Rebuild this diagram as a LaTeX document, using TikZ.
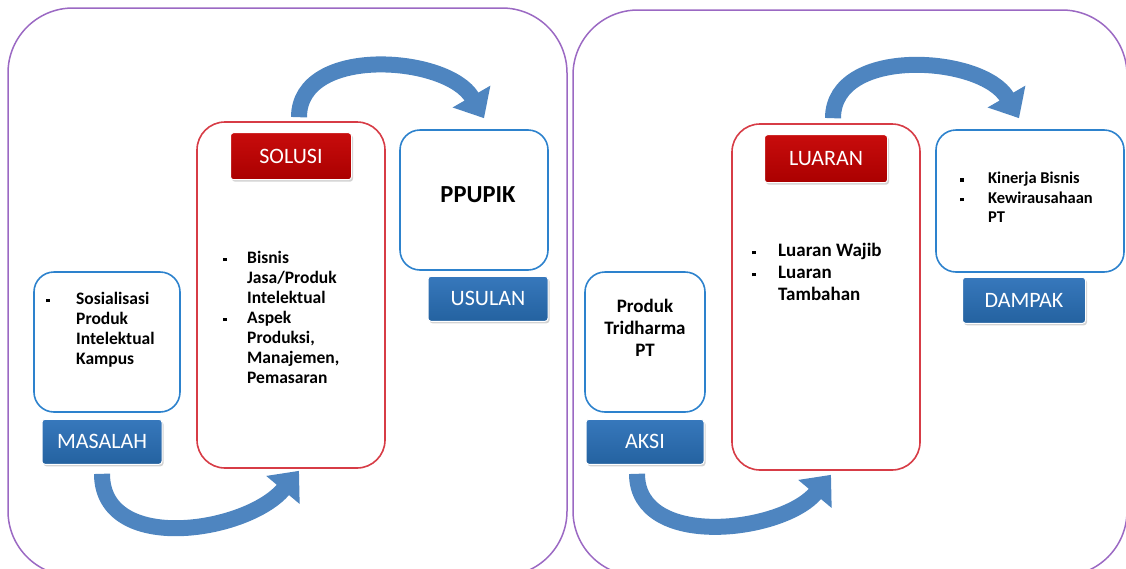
\documentclass[tikz,border=0pt]{standalone}
\usepackage{fontspec}
\setmainfont{Carlito}
\usetikzlibrary{positioning, arrows.meta, shadows}

\definecolor{ungu}{RGB}{155,105,195}
\definecolor{biruGaris}{RGB}{45,130,205}
\definecolor{merahGaris}{RGB}{215,60,70}
\definecolor{biruTua}{RGB}{36,98,160}
\definecolor{biruMuda}{RGB}{55,120,188}
\definecolor{merahTua}{RGB}{170,0,0}
\definecolor{merahMuda}{RGB}{200,12,12}
\definecolor{panahWarna}{RGB}{78,133,192}

\newcommand{\butir}[1][24pt]{\makebox[#1][l]{\rule[0.12em]{3.5pt}{3.5pt}}}

\begin{document}
\begin{tikzpicture}[x=1pt, y=1pt,
    panel/.style={draw=ungu, line width=1.5pt, rounded corners=65pt},
    isibox/.style={rectangle, draw=biruGaris, line width=1.6pt, rounded corners=20pt, fill=white},
    merahbox/.style={rectangle, draw=merahGaris, line width=1.6pt, rounded corners=28pt, fill=white},
    labelbox/.style={rectangle, rounded corners=3pt, draw=white, line width=1pt, text=white,
        font=\fontsize{22}{24}\selectfont,
        drop shadow={opacity=0.35, shadow xshift=1.5pt, shadow yshift=-2pt}},
    labelbiru/.style={labelbox, top color=biruMuda, bottom color=biruTua, minimum width=120pt, minimum height=45pt},
    labelmerah/.style={labelbox, top color=merahMuda, bottom color=merahTua, minimum width=121pt, minimum height=47pt},
    isitext/.style={inner sep=0pt, anchor=north west, font=\bfseries\fontsize{17.5}{20}\selectfont},
    panah/.style={draw=panahWarna, line width=16pt, -{Triangle[width=42pt, length=25pt]}},
]
\useasboundingbox (0,-568) rectangle (1126,0);

% two big frames
\draw[panel] (8,-8) rectangle (567,-576);
\draw[panel] (573,-10) rectangle (1127,-576);

% left frame
\node[isibox, minimum width=146pt, minimum height=140pt] (masalah) at (107,-342) {};
\node[merahbox, minimum width=188pt, minimum height=346pt] (solusi) at (291,-295) {};
\node[isibox, minimum width=148pt, minimum height=140pt] (ppupik) at (474,-200) {};

\node[labelbiru, below=6pt of masalah, xshift=-5pt] (labelmasalah) {MASALAH};
\node[labelmerah, below=11pt of solusi.north] (labelsolusi) {SOLUSI};
\node[labelbiru, below=5pt of ppupik, xshift=14pt] (labelusulan) {USULAN};

\node[isitext] (teksmasalah) at (46,-290) {\begin{tabular}{@{}l@{}l@{}}
    \butir[30pt] & Sosialisasi\\ & Produk\\ & Intelektual\\ & Kampus
\end{tabular}};
\node[isitext] (tekssolusi) at (223,-249) {\begin{tabular}{@{}l@{}l@{}}
    \butir[24pt] & Bisnis\\ & Jasa/Produk\\ & Intelektual\\
    \butir[24pt] & Aspek\\ & Produksi,\\ & Manajemen,\\ & Pemasaran
\end{tabular}};
\node[font=\bfseries\fontsize{24.5}{28}\selectfont] (teksusulan) at (478,-195) {PPUPIK};

% right frame
\node[isibox, minimum width=120pt, minimum height=140pt] (produk) at (645,-342) {};
\node[merahbox, minimum width=188pt, minimum height=346pt] (luaran) at (826,-297) {};
\node[isibox, minimum width=188pt, minimum height=142pt] (dampak) at (1030,-201) {};

\node[labelbiru, below=6pt of produk, minimum width=118pt] (labelaksi) {AKSI};
\node[labelmerah, below=11pt of luaran.north, minimum width=123pt, minimum height=48pt] (labelluaran) {LUARAN};
\node[labelbiru, below=4pt of dampak, xshift=-6pt, minimum width=123pt, minimum height=46pt] (labeldampak) {DAMPAK};

\node[inner sep=0pt, anchor=north, font=\bfseries\fontsize{19}{22}\selectfont] (teksproduk) at (645,-297)
    {\begin{tabular}{@{}c@{}}Produk\\ Tridharma\\ PT\end{tabular}};
\node[isitext, font=\bfseries\fontsize{19}{22}\selectfont] (teksluaran) at (752,-241) {\begin{tabular}{@{}l@{}l@{}}
    \butir[26pt] & Luaran Wajib\\ \butir[26pt] & Luaran\\ & Tambahan
\end{tabular}};
\node[isitext, font=\bfseries\fontsize{16.5}{19.5}\selectfont] (teksdampak) at (960,-170) {\begin{tabular}{@{}l@{}l@{}}
    \butir[28pt] & Kinerja Bisnis\\ \butir[28pt] & Kewirausahaan\\ & PT
\end{tabular}};

% curved arrows
\draw[panah] ([yshift=-9pt]labelmasalah.south) to[out=-90, in=230, looseness=1.05] ([xshift=8pt,yshift=-2pt]solusi.south);
\draw[panah] ([xshift=8pt,yshift=4pt]solusi.north) to[out=90, in=120, looseness=1] ([xshift=10pt,yshift=11pt]ppupik.north);
\draw[panah] ([xshift=-8pt,yshift=-9pt]labelaksi.south) to[out=-90, in=230, looseness=1] ([xshift=5pt,yshift=-4pt]luaran.south);
\draw[panah] ([xshift=7pt,yshift=5pt]luaran.north) to[out=90, in=120, looseness=1] ([xshift=-11pt,yshift=11pt]dampak.north);
\end{tikzpicture}
\end{document}
